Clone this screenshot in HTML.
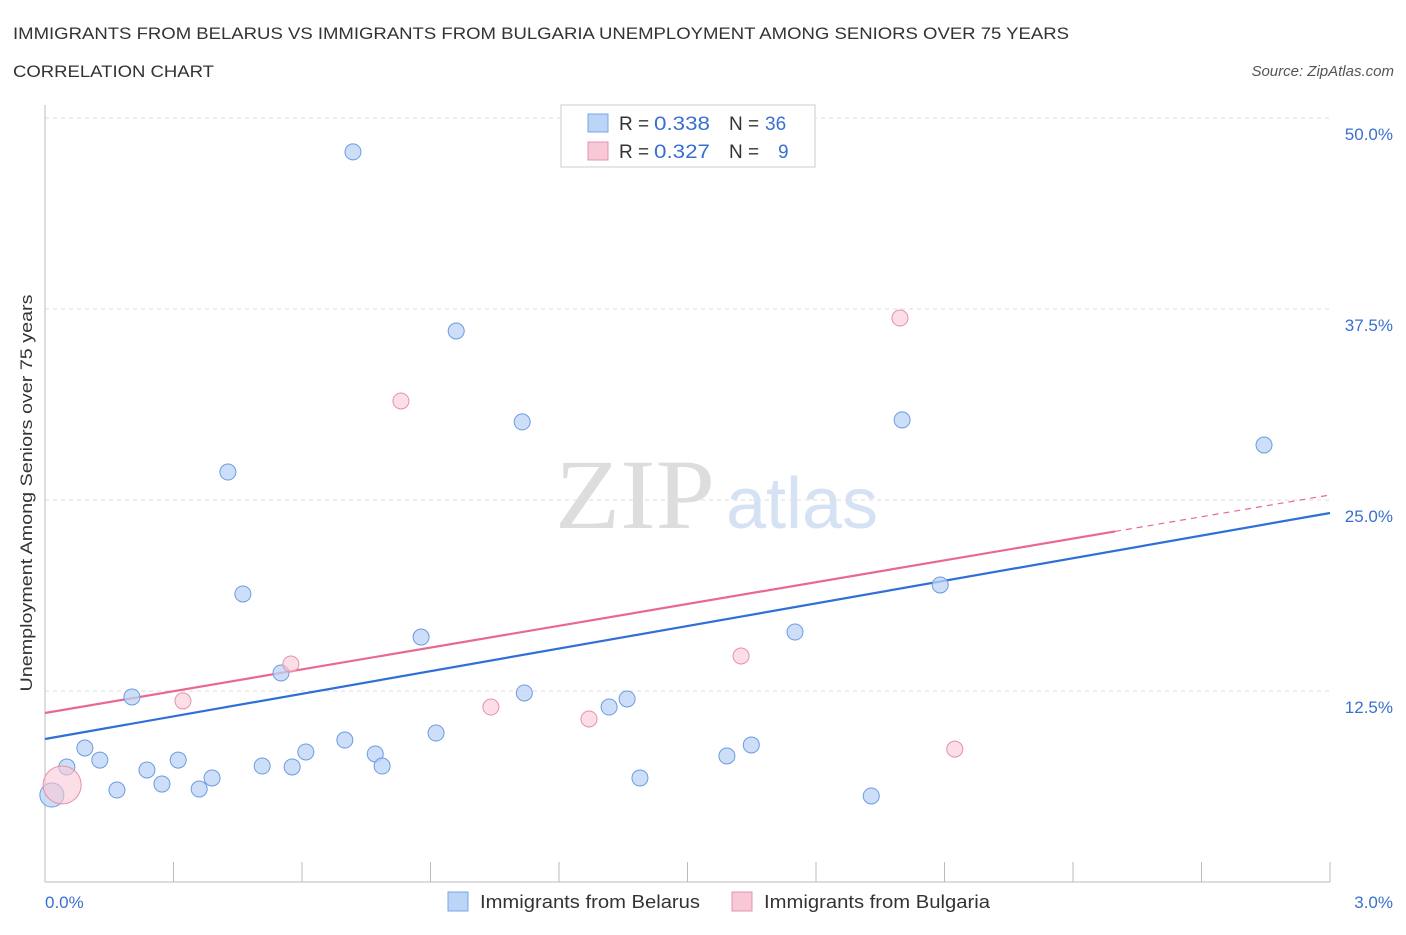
<!DOCTYPE html>
<html><head><meta charset="utf-8"><style>
body{margin:0;background:#fff;font-family:"Liberation Sans",sans-serif;}
svg text{font-family:"Liberation Sans",sans-serif;}
</style></head><body>
<svg id="chart" width="1406" height="930">
<text x="13" y="39" font-size="17" fill="#333" textLength="1056" lengthAdjust="spacingAndGlyphs">IMMIGRANTS FROM BELARUS VS IMMIGRANTS FROM BULGARIA UNEMPLOYMENT AMONG SENIORS OVER 75 YEARS</text>
<text x="13" y="77" font-size="17" fill="#333" textLength="201" lengthAdjust="spacingAndGlyphs">CORRELATION CHART</text>
<text x="1394" y="76" font-size="15" fill="#555" font-style="italic" text-anchor="end">Source: ZipAtlas.com</text>
<text x="555" y="528" font-size="100" fill="#ddd" textLength="160" lengthAdjust="spacingAndGlyphs" style="font-family:'Liberation Serif',serif">ZIP</text>
<text x="802" y="528" font-size="72" fill="#d4e2f4" text-anchor="middle">atlas</text>
<g id="grid"></g><g id="lines"></g><g id="pts"></g>
<text x="32" y="493" font-size="17" fill="#333" text-anchor="middle" textLength="397" lengthAdjust="spacingAndGlyphs" transform="rotate(-90 32 493)">Unemployment Among Seniors over 75 years</text>
<text x="45" y="908" font-size="17" fill="#3a6fd0">0.0%</text>
<text x="1393" y="908" font-size="17" fill="#3a6fd0" text-anchor="end">3.0%</text>
<g>
<rect x="561" y="105" width="254" height="62" fill="#fff" stroke="#ccc"/>
<rect x="588" y="114" width="20" height="18" fill="#bcd4f6" stroke="#7aa6e6"/>
<rect x="588" y="142" width="20" height="18" fill="#f8c8d6" stroke="#e890ab"/>
<text x="619" y="130" font-size="19" fill="#333">R =</text>
<text x="654" y="130" font-size="19" fill="#3a6fd0" textLength="56" lengthAdjust="spacingAndGlyphs">0.338</text>
<text x="729" y="130" font-size="19" fill="#333">N =</text>
<text x="765" y="130" font-size="19" fill="#3a6fd0">36</text>
<text x="619" y="158" font-size="19" fill="#333">R =</text>
<text x="654" y="158" font-size="19" fill="#3a6fd0" textLength="56" lengthAdjust="spacingAndGlyphs">0.327</text>
<text x="729" y="158" font-size="19" fill="#333">N =</text>
<text x="778" y="158" font-size="19" fill="#3a6fd0">9</text>
</g>
<g>
<rect x="448" y="892" width="20" height="19" fill="#bcd4f6" stroke="#7aa6e6"/>
<text x="480" y="908" font-size="18" fill="#333" textLength="220" lengthAdjust="spacingAndGlyphs">Immigrants from Belarus</text></g>
<g>
<rect x="732" y="892" width="20" height="19" fill="#f8c8d6" stroke="#e890ab"/>
<text x="764" y="908" font-size="18" fill="#333" textLength="226" lengthAdjust="spacingAndGlyphs">Immigrants from Bulgaria</text></g>
</svg>
<script>
const yTicks=[12.5,25,37.5,50];
const yTickLabels=["12.5%","25.0%","37.5%","50.0%"];
const xTicks=[0,0.3,0.6,0.9,1.2,1.5,1.8,2.1,2.4,2.7,3.0];
const belarusX=[0.016,0.051,0.093,0.128,0.168,0.203,0.238,0.273,0.311,0.360,0.390,0.427,0.462,0.507,0.551,0.577,0.609,0.700,0.719,0.771,0.787,0.878,0.913,0.960,1.114,1.119,1.317,1.359,1.389,1.592,1.649,1.751,1.929,2.001,2.090,2.846];
const belarusY=[5.69,7.53,8.77,7.98,6.02,12.11,7.33,6.41,7.98,6.09,6.81,26.83,18.85,7.59,13.68,7.53,8.51,9.29,47.78,8.38,7.59,16.03,9.75,36.06,30.11,12.37,11.45,11.98,6.81,8.25,8.97,16.36,5.63,30.24,19.44,28.60];
const bulgariaX=[0.040,0.322,0.574,0.831,1.041,1.270,1.625,1.996,2.124];
const bulgariaY=[6.35,11.85,14.27,31.48,11.45,10.67,14.79,36.91,8.70];
const belarusTrend=[9.36,24.15];
const bulgariaTrend=[11.06,25.33];
const bulgariaSolidEnd=2.498;
const X=v=>45+v/3*1285, Y=v=>882-v/50*764;
const NS="http://www.w3.org/2000/svg";
function mk(tag,attrs,parent){const e=document.createElementNS(NS,tag);for(const k in attrs)e.setAttribute(k,attrs[k]);document.getElementById(parent).appendChild(e);return e;}
yTicks.forEach((t,i)=>{
 const g=mk('line',{x1:45,x2:1330,y1:Y(t),y2:Y(t),stroke:'#ddd','stroke-dasharray':'4,4'},'grid');
 
 
 const tx=mk('text',{x:1393,y:Y(t)+22,'font-size':17,fill:'#3a6fd0','text-anchor':'end'},'grid');
 tx.textContent=yTickLabels[i];
 
 
});
const ax=mk('line',{x1:45,x2:45,y1:105,y2:882,stroke:'#bbb'},'grid');


const bx=mk('line',{x1:45,x2:1330,y1:882,y2:882,stroke:'#bbb'},'grid');


xTicks.forEach(t=>{
 const l=mk('line',{x1:X(t),x2:X(t),y1:862,y2:882,stroke:'#bbb'},'grid');
 
 
});
const lb=mk('line',{x1:X(0),y1:Y(belarusTrend[0]),x2:X(3),y2:Y(belarusTrend[1]),stroke:'#2f6fd6','stroke-width':2.2},'lines');


const pv=x=>bulgariaTrend[0]+(bulgariaTrend[1]-bulgariaTrend[0])*x/3;
const lp=mk('line',{x1:X(0),y1:Y(pv(0)),x2:X(bulgariaSolidEnd),y2:Y(pv(bulgariaSolidEnd)),stroke:'#e8698f','stroke-width':2.2},'lines');


const lpd=mk('line',{x1:X(bulgariaSolidEnd),y1:Y(pv(bulgariaSolidEnd)),x2:X(3),y2:Y(pv(3)),stroke:'#e8698f','stroke-width':1.2,'stroke-dasharray':'6,5'},'lines');


belarusX.forEach((x,i)=>{
 const c=mk('circle',{cx:X(x),cy:Y(belarusY[i]),r:i===0?12:8,fill:'#bcd4f6','fill-opacity':0.75,stroke:'#6c9be0','stroke-width':1},'pts');
 
 
});
bulgariaX.forEach((x,i)=>{
 const c=mk('circle',{cx:X(x),cy:Y(bulgariaY[i]),r:i===0?19:8,fill:'#f8c8d6','fill-opacity':0.6,stroke:'#e890ab','stroke-width':1},'pts');
 
 
});
</script>
</body></html>
